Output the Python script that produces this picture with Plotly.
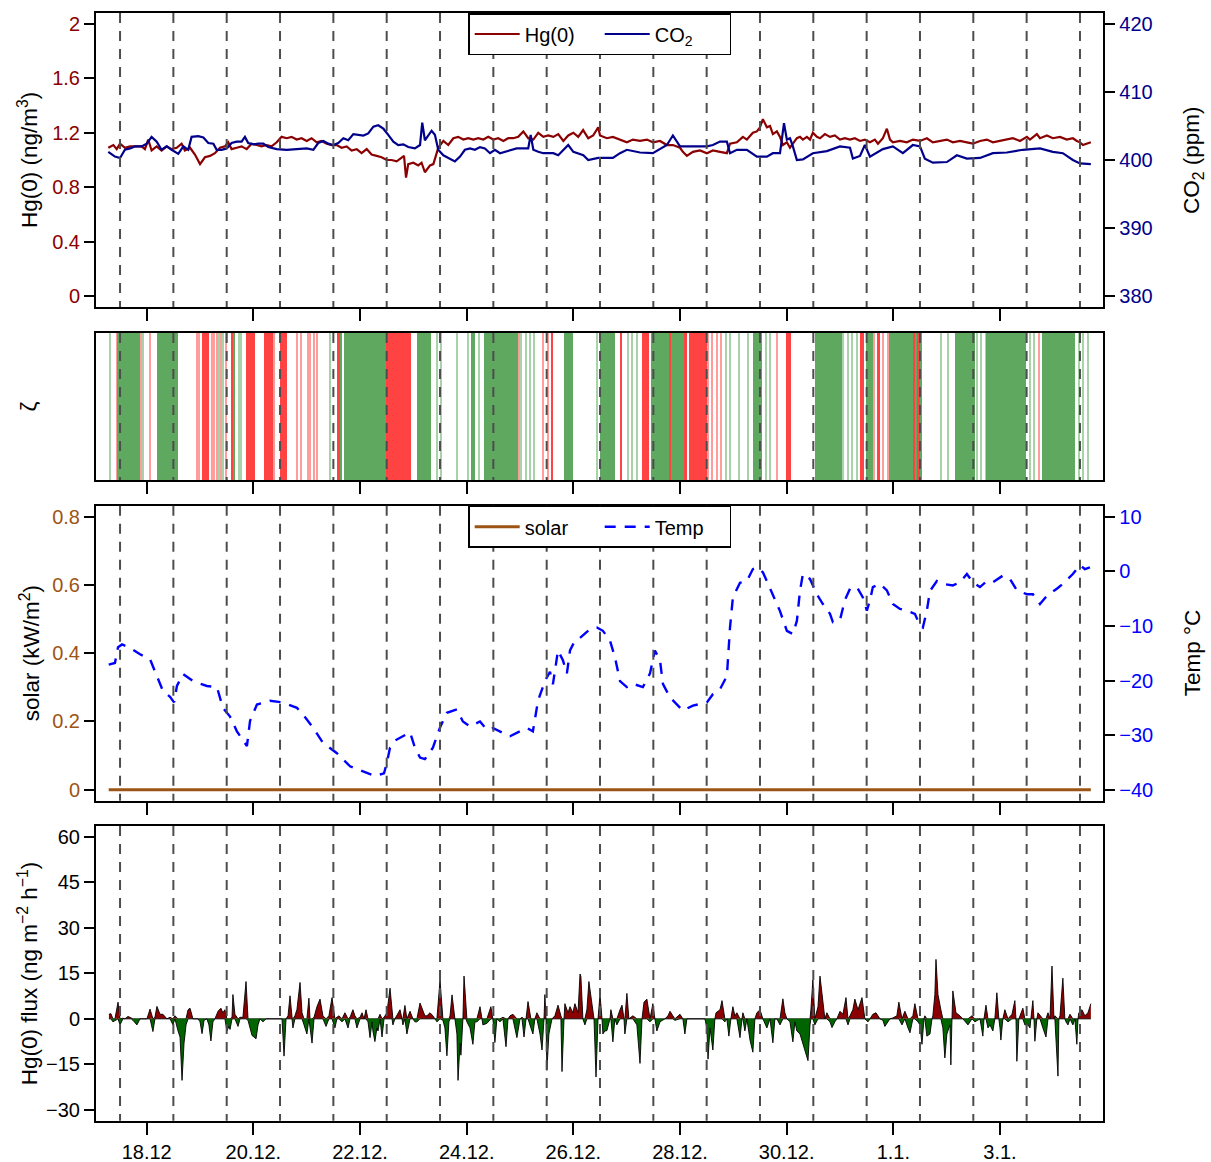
import pandas as pd
import plotly.graph_objects as go

START = pd.Timestamp("2014-12-17 00:00")  # hours below are counted from 17.12. 00:00

# ---------------- data (hours since 17.12. 00:00, value) ----------------
HG = [(6.7,1.09),(9.0,1.11),(10.5,1.08),(12.0,1.12),(14.2,1.09),(16.5,1.10),(19.5,1.10),(21.7,1.10),(23.2,1.08),
      (24.7,1.15),(26.2,1.07),(28.5,1.10),(30.7,1.07),(33.0,1.10),(35.2,1.08),(37.5,1.09),(39.7,1.12),(41.2,1.07),
      (43.5,1.09),(45.7,1.04),(48.0,0.97),(50.2,1.02),(52.5,1.03),(54.7,1.05),(57.0,1.09),(59.2,1.10),(60.7,1.13),
      (62.2,1.08),(64.5,1.09),(66.7,1.10),(69.0,1.08),(71.2,1.12),(73.5,1.11),(75.7,1.10),(78.0,1.11),(80.2,1.10),
      (82.5,1.13),(84.7,1.17),(87.0,1.16),(89.2,1.17),(91.5,1.15),(93.7,1.16),(96.0,1.14),(98.2,1.16),(100.5,1.13),
      (102.7,1.14),(105.0,1.12),(107.2,1.11),(109.5,1.11),(111.7,1.09),(114.0,1.10),(116.2,1.07),(118.5,1.08),
      (120.7,1.05),(123.0,1.08),(125.2,1.04),(127.5,1.03),(129.7,1.02),(132.0,1.00),(134.2,1.00),(136.5,0.99),
      (138.7,1.02),(139.8,1.03),(140.7,0.87),(141.7,0.97),(144.0,0.98),(146.2,0.96),(147.7,0.98),(149.2,0.91),
      (151.5,0.96),(153.0,0.97),(154.5,1.05),(155.2,1.09),(157.5,1.14),(159.7,1.11),(162.0,1.16),(164.2,1.17),
      (166.5,1.15),(168.7,1.16),(171.0,1.15),(173.2,1.16),(175.5,1.15),(177.7,1.17),(180.0,1.15),(182.2,1.16),
      (184.5,1.14),(186.7,1.16),(189.0,1.16),(191.2,1.17),(193.5,1.21),(195.7,1.16),(198.0,1.15),(200.2,1.20),
      (202.5,1.17),(204.7,1.18),(207.0,1.17),(209.2,1.19),(211.5,1.14),(213.7,1.18),(216.0,1.20),(218.2,1.17),
      (220.4,1.22),(222.7,1.16),(224.9,1.18),(227.2,1.24),
      (228.0,1.18),(231.1,1.16),(233.8,1.17),(237.0,1.15),(240.1,1.13),(242.8,1.15),(246.0,1.14),
      (249.1,1.15),(251.8,1.13),(255.0,1.14),(258.1,1.11),(260.8,1.11),(264.0,1.09),(265.3,1.06),(267.1,1.03),
      (269.8,1.06),(273.0,1.07),(276.1,1.05),(278.8,1.07),(282.0,1.06),(285.1,1.05),(286.5,1.12),(289.6,1.13),
      (292.3,1.17),(294.1,1.15),(296.8,1.20),(298.6,1.21),(300.0,1.24),(301.3,1.30),(303.1,1.24),(304.5,1.25),
      (305.8,1.19),(307.6,1.21),(309.0,1.17),(310.3,1.11),(312.1,1.13),(313.5,1.09),(314.8,1.12),(316.6,1.16),
      (318.0,1.17),(319.3,1.15),(321.1,1.17),(322.5,1.15),(323.8,1.20),(325.6,1.17),(327.0,1.16),(329.2,1.19),
      (331.5,1.17),(333.7,1.18),(336.0,1.15),(338.2,1.16),(340.5,1.15),(342.7,1.16),(345.0,1.14),(347.2,1.15),
      (349.5,1.13),(351.7,1.15),(353.1,1.12),(355.3,1.16),(357.1,1.23),(358.5,1.15),(359.8,1.13),(363.0,1.14),
      (366.1,1.13),(368.8,1.15),(372.0,1.14),(375.1,1.16),(377.8,1.13),(381.0,1.14),(384.1,1.15),(386.8,1.13),
      (390.0,1.14),(393.1,1.13),(395.8,1.12),(399.0,1.14),(402.1,1.15),(404.8,1.13),(408.0,1.14),(411.1,1.15),
      (413.8,1.16),(417.0,1.14),(420.1,1.17),(421.5,1.15),(424.6,1.19),(426.0,1.16),(429.1,1.18),(431.8,1.16),
      (435.0,1.17),(438.1,1.15),(440.8,1.16),(442.6,1.14),(444.0,1.13),(445.3,1.11),(447.1,1.12),(448.9,1.13)]

CO2 = [(6.7,401.2),(9.7,400.5),(12.0,400.3),(14.2,401.5),(16.5,401.7),(18.7,402.0),(21.7,402.0),(24.0,402.4),
       (26.2,403.4),(28.5,402.7),(30.7,401.5),(33.0,402.0),(35.2,401.5),(38.2,400.9),(40.5,402.0),(42.7,401.5),
       (44.2,403.4),(47.2,403.5),(49.5,403.3),(51.7,402.5),(54.0,402.4),(55.5,401.5),(57.7,401.5),(60.0,401.7),
       (62.2,402.5),(64.5,402.7),(66.7,402.7),(68.2,403.4),(69.7,402.5),(72.0,402.3),(74.2,402.4),(76.5,402.4),
       (78.7,401.9),(82.5,401.6),(87.0,401.5),(91.5,401.6),(96.0,401.7),(99.0,401.5),(101.2,402.5),(103.5,402.8),
       (105.7,402.4),(108.0,402.2),(110.2,402.5),(112.5,403.2),(114.7,402.9),(117.0,403.8),(119.2,403.7),
       (121.5,403.6),(123.7,403.9),(126.0,404.9),(128.2,405.1),(130.5,404.6),(132.7,403.7),(135.0,402.7),
       (137.2,402.2),(139.5,402.3),(141.7,401.9),(144.7,401.7),(147.0,402.2),(148.0,405.5),(149.2,402.9),
       (150.7,403.7),(152.2,404.3),(153.7,403.7),(155.2,401.5),(157.5,400.7),(160.5,400.2),(162.7,399.8),
       (165.0,400.5),(167.2,401.5),(169.5,401.7),(171.7,401.5),(174.0,401.9),(176.2,401.7),(178.5,401.0),
       (180.7,401.5),(183.0,401.0),(185.2,401.2),(187.5,401.5),(190.5,401.7),(193.5,401.7),(195.7,401.7),
       (196.8,403.7),(198.0,401.5),(200.2,401.2),(202.5,401.0),(204.7,401.0),(207.0,401.0),(209.2,400.7),
       (211.5,401.5),(213.7,402.2),(216.0,401.2),(218.2,400.9),(220.5,400.7),(222.7,400.0),(225.0,400.2),
       (227.2,400.3),
       (233.8,400.3),(237.0,401.0),(240.1,401.5),
       (246.0,401.1),(251.8,401.0),(258.1,402.2),(260.8,403.6),(264.0,402.0),(269.8,402.0),(276.1,402.0),(278.8,402.2),
       (282.0,402.7),(285.1,402.7),(286.5,401.0),(289.6,401.5),(294.1,401.5),(298.6,400.5),(303.1,400.5),(305.8,401.0),
       (309.0,401.0),(310.8,405.4),(312.1,403.0),(313.5,403.2),(314.8,402.0),(316.6,400.0),(319.3,400.1),(323.8,401.0),
       (330.1,401.3),(336.0,402.0),(340.5,401.8),(341.8,400.2),(345.0,400.6),(347.2,402.2),(349.5,400.5),(355.3,401.6),
       (359.8,402.0),(364.3,401.0),(368.8,402.2),(372.0,402.0),(374.2,400.2),(377.8,399.6),(384.1,399.7),(388.6,400.7),
       (393.1,400.2),(399.0,400.3),(404.8,401.0),(411.1,401.1),(418.3,401.5),(426.0,401.7),(431.8,401.2),(436.3,401.0),
       (440.8,400.0),(444.0,399.5),(448.9,399.4)]

TEMP = [(6.9,-17.1),(9.7,-16.8),(11.1,-13.9),(12.9,-13.4),(16.5,-14.0),(21.0,-15.2),(25.5,-16.1),(28.6,-19.4),
        (31.3,-21.9),(34.5,-23.0),(36.3,-24.0),(37.6,-21.0),(40.3,-18.8),(44.8,-20.1),(51.1,-21.0),(55.6,-21.2),
        (58.3,-25.0),(61.5,-26.6),(64.6,-29.3),(69.1,-32.0),(70.5,-27.4),(73.6,-24.4),(79.5,-23.7),(85.3,-24.0),
        (91.6,-25.0),(94.3,-26.2),(98.8,-28.6),(103.3,-31.4),(109.6,-33.3),(115.5,-35.7),(121.3,-36.6),(126.7,-37.5),
        (129.0,-37.2),(130.8,-37.0),(132.1,-35.0),(133.5,-32.3),(135.7,-31.0),(138.0,-30.5),(142.5,-29.5),(144.7,-32.3),
        (147.0,-34.1),(149.2,-34.4),(152.8,-32.3),(156.0,-28.6),(159.1,-25.9),(163.6,-25.3),(166.3,-27.5),(169.5,-28.4),
        (174.0,-27.5),(177.1,-29.0),(179.8,-28.7),(184.3,-29.6),(187.5,-30.2),(192.0,-29.3),(195.1,-28.7),(197.8,-29.3),
        (200.1,-23.7),(203.2,-20.1),(205.5,-18.4),(206.8,-20.7),(209.1,-14.5),(211.3,-16.3),(213.1,-18.7),(214.5,-14.5),
        (216.7,-12.7),(219.0,-12.2),(223.5,-10.6),(226.6,-10.3),(229.3,-10.9),(232.5,-12.7),(234.7,-15.7),(237.0,-20.1),
        (240.1,-21.2),(242.8,-20.6),(247.3,-21.2),(250.5,-18.7),(252.7,-14.5),(255.0,-16.3),(256.3,-20.6),(259.5,-23.1),
        (262.6,-24.3),(265.3,-25.5),(269.8,-24.6),(273.0,-24.3),(276.1,-24.0),(278.8,-22.5),(282.0,-21.6),(285.1,-19.2),
        (286.5,-10.3),(287.8,-4.8),(291.0,-2.1),(294.1,-1.8),(296.8,0.4),(298.6,0.7),(301.3,-0.2),(303.1,-1.8),
        (305.8,-4.2),(309.0,-7.3),(312.1,-10.9),(314.8,-11.5),(316.6,-9.1),(318.0,-3.6),(319.3,-0.5),(322.5,-1.4),
        (325.6,-4.2),(328.3,-6.0),(331.5,-7.8),(332.8,-9.3),(336.0,-8.9),(338.2,-5.3),(340.5,-3.2),(343.6,-2.9),
        (346.3,-4.8),(348.1,-7.2),(349.5,-5.3),(350.8,-2.9),(354.0,-2.3),(357.1,-3.5),(359.8,-6.0),(363.0,-6.9),
        (366.1,-7.2),(369.7,-7.8),(372.0,-9.9),(373.3,-10.3),(375.1,-7.2),(376.5,-3.6),(379.6,-1.8),(382.3,-2.3),
        (386.8,-2.6),(390.0,-2.0),(393.1,-0.5),(395.8,-2.0),(399.0,-2.9),(402.1,-1.8),(404.8,-2.0),(409.3,-0.8),
        (412.5,-1.4),(415.6,-3.5),(420.1,-4.2),(422.8,-4.2),(426.0,-6.0),(429.1,-4.5),(433.6,-3.2),(436.3,-2.3),
        (440.8,-0.5),(444.0,1.1),(446.2,0.4),(448.5,0.7)]

SOLAR = [(6.9,0.0),(36.0,0.0),(60.0,0.0),(84.0,0.0),(108.0,0.0),(132.0,0.0),(156.0,0.0),(180.0,0.0),(204.0,0.0),
         (228.0,0.0),(252.0,0.0),(276.0,0.0),(300.0,0.0),(324.0,0.0),(348.0,0.0),(372.0,0.0),(396.0,0.0),(420.0,0.0),
         (448.9,0.0)]

FLUX = [(7.0,1.5),(7.9,1.7),(8.8,-1.0),(9.7,-0.5),(11.1,5.5),(12.0,-2.0),(13.3,0.2),(14.2,0.0),(15.6,0.8),(17.0,0.3),
        (17.8,-0.5),(19.6,-2.0),(21.0,0.0),(24.1,0.0),(25.5,3.2),(26.8,-4.2),(27.7,0.5),(28.6,4.1),(30.0,1.5),(31.3,1.5),
        (33.1,0.0),(34.5,0.5),(35.8,-2.0),(36.7,1.0),(38.1,-4.0),(39.0,-6.0),(39.9,-20.3),(40.8,-8.0),(41.7,-2.0),
        (42.6,3.0),(43.5,3.5),(44.8,0.0),(47.1,0.0),(48.0,-1.0),(48.9,-4.9),(49.8,-0.5),(51.1,0.0),(52.0,-2.0),
        (52.9,-7.3),(53.8,-1.0),(54.7,0.0),(56.1,2.5),(57.4,3.5),(58.3,2.0),(59.2,3.0),(60.1,-4.0),(61.0,-2.5),
        (61.5,-3.5),(62.4,0.5),(62.8,8.0),(63.7,1.5),(65.1,-2.5),(66.0,0.5),(67.3,0.5),(68.7,12.3),(69.6,-0.5),
        (70.5,-3.0),(71.4,-5.5),(72.3,-6.0),(73.2,-6.6),(74.1,-2.0),(75.0,0.0),(76.3,-1.0),(77.7,0.0),(84.9,0.0),
        (85.8,-12.3),(86.7,0.0),(87.6,1.0),(88.5,7.6),(89.4,0.5),(89.8,-3.0),(90.7,1.0),(91.6,3.0),(93.0,12.0),
        (93.9,2.0),(94.8,-2.0),(96.1,-5.0),(97.0,6.8),(97.5,-3.0),(98.4,-8.0),(99.3,0.5),(100.6,4.0),(102.0,6.5),
        (103.3,1.0),(104.7,-2.5),(106.0,1.0),(107.4,7.0),(108.7,-3.0),(109.6,0.5),(110.5,1.0),(111.9,-1.0),(113.2,2.0),
        (114.6,-3.0),(115.5,0.5),(116.8,3.0),(117.7,1.0),(118.6,-3.0),(120.0,0.5),(120.9,2.0),(121.8,0.0),(122.7,3.0),
        (123.6,-1.0),(124.5,-6.2),(125.4,-1.0),(125.8,-4.0),(126.7,-7.5),(127.6,-3.0),(128.1,-4.0),(129.0,1.5),
        (129.9,-6.0),(130.8,0.5),(131.2,1.0),(132.1,2.0),(133.5,10.1),(134.4,1.0),(134.8,-2.0),(135.7,0.0),(136.6,1.0),
        (138.0,3.0),(138.9,0.0),(139.3,-2.0),(140.2,4.4),(141.1,-5.0),(142.5,2.5),(143.8,0.0),(144.7,-1.0),(145.6,-1.0),
        (147.0,5.2),(148.3,3.0),(149.2,1.0),(150.1,1.0),(151.5,2.0),(152.8,1.0),(153.7,0.0),(154.6,-1.0),(156.0,12.8),
        (157.3,-0.5),(158.2,-3.0),(159.1,-12.2),(160.0,-1.0),(160.5,1.0),(161.4,7.9),(162.7,0.0),(163.6,-5.0),
        (164.1,-20.3),(165.0,-8.0),(165.4,-12.0),(166.3,0.0),(166.8,14.1),(167.7,1.0),(168.1,-1.0),(169.5,-3.0),
        (170.8,-8.4),(171.7,-1.0),(172.6,-1.0),(174.0,4.0),(174.9,0.0),(175.3,-2.0),(177.1,-1.5),(178.9,4.0),(179.8,0.0),
        (180.7,-7.8),(181.6,0.0),(183.0,-1.0),(184.3,0.5),(185.7,-9.2),(186.6,0.0),(187.5,1.0),(188.8,1.5),(190.6,-6.2),
        (192.0,0.0),(192.9,0.5),(193.8,-6.0),(194.7,0.0),(195.1,2.5),(195.6,5.7),(196.9,-3.0),(197.8,-5.0),(198.7,0.0),
        (199.6,2.0),(201.0,-5.0),(201.9,-10.3),(202.8,0.0),(203.2,8.0),(203.7,0.0),(204.1,-17.0),(205.0,-5.0),
        (206.4,0.0),(207.7,1.0),(209.1,4.5),(210.4,1.0),(210.9,-17.4),(211.8,0.0),(212.2,5.0),(213.6,2.0),(214.5,4.0),
        (215.8,2.0),(216.7,5.0),(218.1,2.0),(219.0,14.8),(219.4,14.0),(220.3,0.0),(221.2,-2.0),(222.1,3.0),(223.0,12.3),
        (224.4,5.0),(225.3,0.0),(226.2,-19.2),(227.1,0.0),(228.0,8.0),(228.9,0.0),(229.3,-5.0),(230.2,-4.0),(231.1,-3.9),
        (232.5,0.0),(232.9,3.0),(233.8,-7.6),(234.7,0.0),(235.6,-2.0),(237.0,3.0),(237.9,4.5),(238.8,0.0),(239.2,-5.0),
        (240.1,8.4),(241.0,0.0),(242.8,1.0),(244.6,-2.0),(246.0,-14.7),(246.9,0.0),(247.8,5.5),(249.1,6.5),(250.5,-1.0),
        (251.8,5.0),(252.7,0.0),(253.6,-4.0),(255.0,-1.0),(257.2,0.0),(258.6,1.0),(259.5,2.5),(260.8,1.0),(261.7,-0.5),
        (264.0,1.5),(265.3,0.0),(266.2,-5.0),(267.1,0.0),(275.2,0.0),(276.1,-3.0),(276.6,-13.3),(277.5,-3.0),
        (277.9,-5.0),(278.8,-10.3),(279.7,0.0),(280.2,2.0),(282.0,3.0),(282.9,6.0),(284.2,-1.0),(285.1,0.0),(286.0,-5.7),
        (286.9,0.0),(287.8,4.0),(288.7,1.0),(289.6,2.0),(291.0,-6.2),(291.9,0.0),(292.3,2.0),(293.2,-4.0),(294.1,0.0),
        (295.5,-7.0),(296.8,-11.0),(297.7,0.0),(298.6,2.0),(300.0,3.0),(301.3,0.0),(303.1,-3.0),(304.5,0.0),(305.8,-7.9),
        (306.7,0.0),(307.6,0.0),(309.0,-2.0),(310.3,6.6),(311.2,2.0),(312.1,0.0),(313.5,-1.0),(314.8,-7.6),(315.7,-1.0),
        (316.6,-4.0),(318.0,-5.0),(319.3,-8.0),(320.2,-10.0),(321.6,-13.8),(322.5,-2.0),(322.9,3.0),(323.8,12.8),
        (324.7,-2.0),(326.1,4.0),(327.0,14.1),(328.3,6.0),(329.2,0.0),(330.1,2.0),(331.5,-1.0),(332.4,-2.9),(333.7,-1.0),
        (334.6,0.0),(336.0,2.5),(337.3,1.5),(338.7,7.0),(339.6,-2.0),(340.5,1.0),(341.8,3.0),(342.7,6.5),(344.1,3.0),
        (345.0,5.0),(345.9,7.0),(347.2,0.0),(348.6,-1.0),(349.5,0.0),(350.8,1.5),(352.2,2.0),(354.0,0.0),(355.3,-0.5),
        (356.2,-2.5),(358.5,0.0),(359.8,0.3),(361.6,1.0),(362.5,5.5),(363.9,-2.0),(365.2,2.5),(366.6,-3.0),(367.5,-4.6),
        (368.8,1.0),(369.7,5.0),(371.1,-1.0),(372.0,-2.0),(372.9,-8.4),(373.8,0.0),(374.2,1.0),(375.1,-5.7),(376.5,-5.0),
        (377.4,0.0),(377.8,1.0),(378.7,8.0),(379.2,19.6),(380.1,8.0),(381.4,3.0),(382.3,-3.0),(383.2,-12.9),(384.1,-5.0),
        (385.5,-2.0),(385.9,-15.2),(386.4,0.0),(386.8,9.2),(388.2,2.0),(390.0,1.0),(391.3,0.0),(393.6,-2.0),(395.4,1.0),
        (396.7,-1.0),(399.0,0.0),(400.3,-5.7),(400.8,0.0),(401.7,4.5),(402.6,-3.0),(403.5,-2.0),(404.8,-4.0),(405.7,0.0),
        (406.6,8.6),(407.5,0.0),(408.0,-3.0),(408.4,-7.0),(409.3,0.0),(410.2,3.0),(411.6,-1.0),(413.4,1.5),(414.7,6.0),
        (415.2,0.0),(415.6,-14.0),(416.5,0.0),(418.3,3.5),(419.2,-2.0),(420.6,-2.0),(421.5,-3.0),(421.9,0.0),(422.8,6.0),
        (423.3,0.0),(423.7,-7.4),(424.6,0.0),(425.1,2.0),(426.0,1.0),(427.3,-3.0),(428.7,-6.0),(429.6,2.0),(430.5,0.0),
        (431.4,17.4),(432.3,0.0),(432.7,1.0),(434.1,-18.9),(434.5,0.0),(435.0,1.0),(436.3,13.4),(437.2,0.0),(437.7,-1.0),
        (438.6,-2.0),(439.5,1.5),(440.8,-2.0),(441.7,0.0),(442.6,-8.4),(443.1,0.0),(443.5,2.0),(444.9,3.0),(446.2,1.0),
        (447.6,2.0),(448.9,5.0)]

# zeta classes per hour: (first hour, last hour, class)  G/R = dense green/red, g/r = sparse green/red
ZETA_RUNS = [(7,7,'g'),(10,10,'r'),(11,20,'G'),(21,21,'r'),(22,22,'g'),(25,25,'r'),(29,37,'G'),
    (46,47,'r'),(49,51,'R'),(53,55,'r'),(56,56,'g'),(57,57,'r'),(58,58,'g'),(59,59,'r'),
    (62,62,'R'),(63,63,'G'),(65,66,'g'),(69,72,'R'),(77,80,'R'),(81,81,'r'),(84,86,'R'),
    (91,91,'r'),(93,93,'r'),(96,97,'r'),(99,100,'r'),(106,106,'g'),(110,110,'R'),(111,111,'G'),
    (113,131,'G'),(132,142,'R'),(146,151,'G'),(154,154,'g'),(156,156,'g'),(163,163,'g'),(168,168,'g'),
    (170,171,'G'),(173,173,'g'),(176,190,'G'),(191,191,'r'),(192,192,'g'),(194,194,'g'),(196,196,'g'),
    (198,198,'g'),(202,202,'r'),(204,204,'r'),(206,206,'R'),(212,215,'G'),(226,226,'g'),(228,234,'G'),
    (237,237,'R'),(240,240,'g'),(242,242,'g'),(244,244,'g'),(247,249,'R'),(251,258,'G'),(259,259,'R'),
    (260,265,'G'),(266,266,'R'),(268,275,'R'),(276,276,'r'),(278,278,'r'),(280,280,'r'),(282,282,'r'),
    (284,284,'g'),(286,286,'g'),(290,290,'g'),(294,294,'g'),(297,300,'G'),(302,302,'g'),(304,304,'g'),
    (307,307,'r'),(312,313,'R'),(325,336,'G'),(337,337,'g'),(339,339,'g'),(341,341,'g'),(343,343,'g'),
    (345,346,'R'),(348,350,'G'),(351,351,'r'),(353,353,'R'),(355,355,'r'),(357,357,'r'),(358,368,'G'),
    (369,369,'R'),(370,370,'G'),(371,371,'R'),(372,372,'G'),(381,381,'g'),(384,384,'g'),(388,396,'G'),
    (397,397,'g'),(399,399,'g'),(401,401,'g'),(402,419,'G'),(421,421,'g'),(423,423,'g'),(425,425,'r'),
    (427,441,'G'),(443,443,'g'),(445,445,'g'),(447,447,'g')]

TICK_DATES = ["2014-12-18", "2014-12-20", "2014-12-22", "2014-12-24", "2014-12-26",
              "2014-12-28", "2014-12-30", "2015-01-01", "2015-01-03"]
TICK_LABELS = ["18.12", "20.12.", "22.12.", "24.12.", "26.12.", "28.12.", "30.12.", "1.1.", "3.1."]
NOON_LINES = pd.date_range("2014-12-17 12:00", "2015-01-04 12:00", freq="D")
X_RANGE = [START + pd.Timedelta(hours=1.18), START + pd.Timedelta(hours=454.5)]

# ---------------- styling ----------------
FONT = "Liberation Sans, Arial, Helvetica, sans-serif"
HG_COL, CO2_COL = "#8B0000", "#00008B"
SOLAR_COL, TEMP_COL = "#9C5414", "#0000FF"
ZCOL = {"G": "#5FA85F", "g": "#A8D2A8", "R": "#FF4343", "r": "#FF9C9C"}
W, H = 1211, 1162
XDOM = [96 / W, 1103.3 / W]


def ydom(top, bottom):
    return [1 - bottom / H, 1 - top / H]


P1, P2, P3, P4 = ydom(13, 307), ydom(333, 480), ydom(505.7, 800.7), ydom(826, 1120.7)


def tt(pairs):
    return [START + pd.Timedelta(hours=h) for h, _ in pairs]


def vv(pairs):
    return [v for _, v in pairs]


fig = go.Figure()

# panel 1
fig.add_trace(go.Scatter(x=tt(HG), y=vv(HG), mode="lines", name="Hg(0)", xaxis="x", yaxis="y",
                         line=dict(color=HG_COL, width=2.2), legend="legend"))
fig.add_trace(go.Scatter(x=tt(CO2), y=vv(CO2), mode="lines", name="CO<sub>2</sub>", xaxis="x", yaxis="y2",
                         line=dict(color=CO2_COL, width=2.2), legend="legend"))

# panel 2 (zeta stripes)
for cls in ["g", "r", "G", "R"]:
    zx, zw = [], []
    for h0, h1, c in ZETA_RUNS:
        if c != cls:
            continue
        for h in range(h0, h1 + 1):
            zx.append(START + pd.Timedelta(hours=h + 0.5))
            zw.append(3600000 * (0.85 if c in "GR" else 0.45))
    fig.add_trace(go.Bar(x=zx, y=[1] * len(zx), width=zw, base=0, xaxis="x2", yaxis="y3",
                         marker=dict(color=ZCOL[cls], line=dict(width=0)), showlegend=False,
                         hoverinfo="skip"))

# panel 3
fig.add_trace(go.Scatter(x=tt(SOLAR), y=vv(SOLAR), mode="lines", name="solar", xaxis="x3", yaxis="y4",
                         line=dict(color=SOLAR_COL, width=3), legend="legend2"))
fig.add_trace(go.Scatter(x=tt(TEMP), y=vv(TEMP), mode="lines", name="Temp", xaxis="x3", yaxis="y5",
                         line=dict(color=TEMP_COL, width=2.4, dash="11px,9px"), legend="legend2"))

# panel 4 (flux, red above / green below zero)
fx = tt(FLUX)
fig.add_trace(go.Scatter(x=fx, y=[max(v, 0) for v in vv(FLUX)], mode="lines", fill="tozeroy",
                         fillcolor="#8B0000", line=dict(color="black", width=0.9), xaxis="x4", yaxis="y6",
                         showlegend=False))
fig.add_trace(go.Scatter(x=fx, y=[min(v, 0) for v in vv(FLUX)], mode="lines", fill="tozeroy",
                         fillcolor="#006400", line=dict(color="black", width=0.9), xaxis="x4", yaxis="y6",
                         showlegend=False))

# dashed noon lines
shapes = []
for xref, yref in [("x", "y"), ("x2", "y3"), ("x3", "y4"), ("x4", "y6")]:
    for d in NOON_LINES:
        shapes.append(dict(type="line", xref=xref, yref=yref + " domain", x0=d, x1=d, y0=1, y1=0,
                           line=dict(color="#4D4D4D", width=2, dash="10px,8px"), layer="above"))

xcommon = dict(type="date", range=X_RANGE, domain=XDOM, tickvals=TICK_DATES, ticktext=TICK_LABELS,
               ticks="outside", ticklen=12, tickwidth=2, tickcolor="black", showline=True, linewidth=2,
               linecolor="black", mirror=True, showgrid=False, zeroline=False,
               tickfont=dict(size=20, color="black", family=FONT))
ycommon = dict(ticks="outside", ticklen=10, tickwidth=2, tickcolor="black", showline=True, linewidth=2,
               linecolor="black", showgrid=False, zeroline=False)

legend_common = dict(orientation="h", x=599.7 / W, xanchor="center", yanchor="top",
                     bgcolor="white", bordercolor="black", borderwidth=1.5, itemwidth=45, entrywidth=70,
                     font=dict(size=20, color="black", family=FONT))

fig.update_layout(
    width=W, height=H, margin=dict(l=0, r=0, t=0, b=0), paper_bgcolor="white", plot_bgcolor="white",
    font=dict(family=FONT, size=20, color="black"), barmode="overlay", bargap=0,
    xaxis=dict(xcommon, anchor="y", showticklabels=False),
    xaxis2=dict(xcommon, anchor="y3", showticklabels=False),
    xaxis3=dict(xcommon, anchor="y4", showticklabels=False),
    xaxis4=dict(xcommon, anchor="y6", showticklabels=True),
    yaxis=dict(ycommon, domain=P1, anchor="x", range=[-0.08, 2.08], mirror=True,
               tickvals=[0, 0.4, 0.8, 1.2, 1.6, 2.0], ticktext=["0", "0.4", "0.8", "1.2", "1.6", "2"],
               tickfont=dict(color=HG_COL, size=20)),
    yaxis2=dict(ycommon, overlaying="y", side="right", anchor="x", range=[378.4, 421.6],
                tickvals=[380, 390, 400, 410, 420], tickfont=dict(color=CO2_COL, size=20)),
    yaxis3=dict(ycommon, domain=P2, anchor="x2", range=[0, 1], mirror=True, ticks="",
                showticklabels=False),
    yaxis4=dict(ycommon, domain=P3, anchor="x3", range=[-0.032, 0.832], mirror=True,
                tickvals=[0, 0.2, 0.4, 0.6, 0.8], ticktext=["0", "0.2", "0.4", "0.6", "0.8"],
                tickfont=dict(color=SOLAR_COL, size=20)),
    yaxis5=dict(ycommon, overlaying="y4", side="right", anchor="x3", range=[-42, 12],
                tickvals=[-40, -30, -20, -10, 0, 10], tickfont=dict(color=TEMP_COL, size=20)),
    yaxis6=dict(ycommon, domain=P4, anchor="x4", range=[-33.6, 63.6], mirror=True,
                tickvals=[-30, -15, 0, 15, 30, 45, 60], tickfont=dict(color="black", size=20)),
    legend=dict(legend_common, y=P1[1]),
    legend2=dict(legend_common, y=P3[1]),
    shapes=shapes,
)

# axis titles
titles = [
    ("Hg(0) (ng/m<sup>3</sup>)", 28, P1),
    ("ζ", 28, P2),
    ("solar (kW/m<sup>2</sup>)", 30, P3),
    ("Hg(0) flux (ng m<sup>−2</sup> h<sup>−1</sup>)", 28, P4),
    ("CO<sub>2</sub> (ppm)", 1193, P1),
    ("Temp °C", 1192, P3),
]
for text, xpix, dom in titles:
    fig.add_annotation(text=text, x=xpix / W, y=(dom[0] + dom[1]) / 2, xref="paper", yref="paper",
                       textangle=-90, showarrow=False, xanchor="center", yanchor="middle",
                       font=dict(size=22.5, color="black", family=FONT))

fig.write_html("out.html")
